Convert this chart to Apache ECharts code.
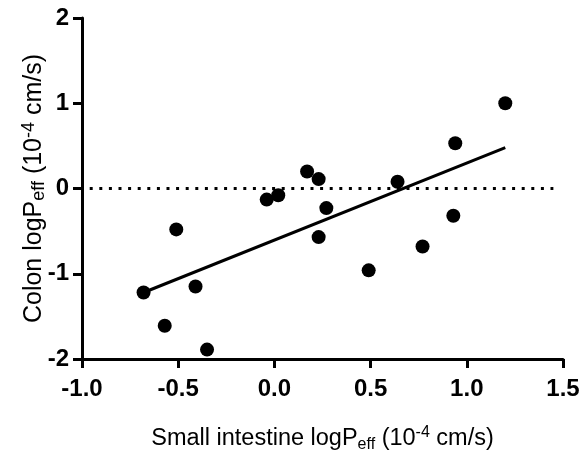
<!DOCTYPE html>
<html lang="en">
<head>
    <meta charset="UTF-8">
    <title>Colon vs small intestine logPeff</title>
    <script type="text/javascript" src="https://cdn.jsdelivr.net/npm/echarts@6/dist/echarts.min.js"></script>
    <style>
        html, body { margin: 0; padding: 0; background: #fff; }
    </style>
</head>
<body>
<div id="main" style="width: 580px; height: 450px;"></div>
<script type="text/javascript">
    // small intestine logPeff (x) and colon logPeff (y)
    var siLogP = [-0.68, -0.57, -0.51, -0.41, -0.35, -0.04, 0.02, 0.17, 0.23, 0.27, 0.23, 0.64, 0.49, 0.77, 0.93, 0.94, 1.2];
    var colonLogP = [-1.22, -1.61, -0.48, -1.15, -1.89, -0.13, -0.08, 0.2, 0.11, -0.23, -0.57, 0.08, -0.96, -0.68, -0.32, 0.53, 1.0];

    // fitted line end points
    var fitX = [-0.68, 1.2];
    var fitY = [-1.22, 0.48];

    // dotted reference line at zero
    var refX = [-0.96, 1.45];
    var refY = [0, 0];

    var xTicks = [-1.0, -0.5, 0.0, 0.5, 1.0, 1.5];
    var yTicks = [-2, -1, 0, 1, 2];

    function pairs(xs, ys) {
        return xs.map(function (x, i) { return [x, ys[i]]; });
    }

    var font = 'Arial, "Liberation Sans", sans-serif';
    function titleRich(size) {
        return {
            a: { fontSize: size, fontFamily: font, color: '#000', lineHeight: 28 },
            sub: { fontSize: Math.round(size * 0.7), fontFamily: font, color: '#000', lineHeight: 12, verticalAlign: 'bottom' },
            sup: { fontSize: Math.round(size * 0.7), fontFamily: font, color: '#000', lineHeight: 12, verticalAlign: 'top' }
        };
    }

    var myChart = echarts.init(document.getElementById('main'));
    var option = {
        animation: false,
        grid: { left: 82, right: 17, top: 18, bottom: 91, outerBoundsMode: 'none', containLabel: false },
        xAxis: {
            type: 'value',
            min: xTicks[0],
            max: xTicks[xTicks.length - 1],
            interval: 0.5,
            name: '{a|Small intestine logP}{sub|eff}{a| (10}{sup|-4}{a| cm/s)}',
            nameLocation: 'middle',
            nameGap: 66,
            nameMoveOverlap: false,
            nameTextStyle: { rich: titleRich(23.5) },
            splitLine: { show: false },
            axisLine: { onZero: false, lineStyle: { color: '#000', width: 3 } },
            axisTick: { length: 9, lineStyle: { color: '#000', width: 3 } },
            axisLabel: {
                color: '#000', fontSize: 24, fontWeight: 'bold', fontFamily: font, margin: 18,
                formatter: function (v) { return v.toFixed(1); }
            }
        },
        yAxis: {
            type: 'value',
            min: yTicks[0],
            max: yTicks[yTicks.length - 1],
            interval: 1,
            name: '{a|Colon logP}{sub|eff}{a| (10}{sup|-4}{a| cm/s)}',
            nameLocation: 'middle',
            nameRotate: 90,
            nameGap: 34,
            nameMoveOverlap: false,
            nameTextStyle: { rich: titleRich(25) },
            splitLine: { show: false },
            axisLine: { show: true, onZero: false, lineStyle: { color: '#000', width: 3 } },
            axisTick: { show: true, length: 9, lineStyle: { color: '#000', width: 3 } },
            axisLabel: { color: '#000', fontSize: 24, fontWeight: 'bold', fontFamily: font, margin: 13 }
        },
        series: [
            {
                type: 'line',
                data: pairs(refX, refY),
                symbol: 'none',
                lineStyle: { color: '#000', width: 3, type: [3, 6.6] },
                z: 1
            },
            {
                type: 'line',
                data: pairs(fitX, fitY),
                symbol: 'none',
                lineStyle: { color: '#000', width: 3 },
                z: 2
            },
            {
                type: 'scatter',
                data: pairs(siLogP, colonLogP),
                symbolSize: 14,
                itemStyle: { color: '#000', opacity: 1 },
                z: 3
            }
        ]
    };
    myChart.setOption(option);
</script>
</body>
</html>
